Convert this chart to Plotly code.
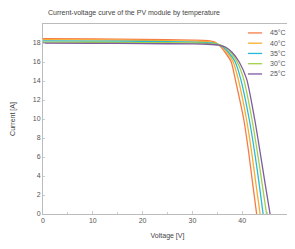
import plotly.graph_objects as go

title = "Current-voltage curve of the PV module by temperature"
labels = ["45°C", "40°C", "35°C", "30°C", "25°C"]
colors = ["#F47B47", "#F7AE2E", "#27BAD6", "#A2D04A", "#7E5A9E"]

v_45 = [0, 10, 20, 30, 33, 34.5, 35.5, 36.6, 37.8, 38.6, 40.3, 41.3, 42.1, 42.9]
i_45 = [18.45, 18.42, 18.38, 18.3, 18.25, 18.1, 17.7, 17.0, 16.0, 14.2, 10.0, 6.5, 3.2, 0]

v_40 = [0, 10, 20, 30, 33, 34.7, 35.8, 37.0, 38.2, 39.2, 40.85, 41.9, 42.75, 43.6]
i_40 = [18.35, 18.32, 18.28, 18.2, 18.15, 18.0, 17.65, 17.0, 16.0, 14.2, 10.0, 6.5, 3.2, 0]

v_35 = [0, 10, 20, 30, 33, 34.9, 36.1, 37.3, 38.6, 39.7, 41.4, 42.5, 43.4, 44.2]
i_35 = [18.22, 18.2, 18.17, 18.1, 18.05, 17.92, 17.62, 17.0, 16.0, 14.2, 10.0, 6.5, 3.2, 0]

v_30 = [0, 10, 20, 30, 33, 35.1, 36.4, 37.7, 39.0, 40.3, 41.95, 43.05, 44.0, 44.9]
i_30 = [18.1, 18.08, 18.05, 18.0, 17.96, 17.85, 17.6, 17.0, 16.0, 14.2, 10.0, 6.5, 3.2, 0]

v_25 = [0, 10, 20, 30, 33, 35.3, 36.7, 38.0, 39.4, 40.9, 42.5, 43.6, 44.6, 45.6]
i_25 = [17.98, 17.96, 17.94, 17.9, 17.87, 17.78, 17.55, 17.0, 16.0, 14.2, 10.0, 6.5, 3.2, 0]

series_v = [v_45, v_40, v_35, v_30, v_25]
series_i = [i_45, i_40, i_35, i_30, i_25]

x_ticks = [0, 10, 20, 30, 40, 50]
y_ticks = [0, 2, 4, 6, 8, 10, 12, 14, 16, 18]

fig = go.Figure()
for lab, col, vv, ii in zip(labels, colors, series_v, series_i):
    fig.add_trace(go.Scatter(x=vv, y=ii, mode="lines", name=lab, showlegend=False,
                             line=dict(color=col, width=1.3, shape="spline", smoothing=0.6)))

# compact legend (plotly's built-in legend rows are too tall for this size)
leg_top = 0.953
leg_step = 0.054
for k, (lab, col) in enumerate(zip(labels, colors)):
    yy = leg_top - k * leg_step
    fig.add_shape(type="line", xref="paper", yref="paper", x0=0.823, x1=0.88, y0=yy, y1=yy,
                  line=dict(color=col, width=1.3))
    fig.add_annotation(xref="paper", yref="paper", x=0.905, y=yy, text=lab, showarrow=False,
                       xanchor="left", yanchor="middle", font=dict(size=7, color="#555555"))

# the page body adds an 8px offset, so the figure is sized 8px smaller each way
W, H = 287, 241
font = dict(family="Liberation Sans, Arial, sans-serif", size=7, color="#555555")
fig.update_layout(
    width=W, height=H,
    margin=dict(l=35, r=3, t=16, b=35),
    paper_bgcolor="white", plot_bgcolor="white",
    font=font,
    title=dict(text=title, x=40 / W, xanchor="left", y=1 - 5 / H, yanchor="middle",
               font=dict(size=7, color="#444444")),
    showlegend=False,
    xaxis=dict(range=[0, 50], tickvals=x_ticks, showgrid=False, zeroline=False, automargin=False,
               showline=True, linecolor="#BBBBBB", linewidth=1, mirror=True,
               ticks="inside", ticklen=3, tickcolor="#CCCCCC",
               minor=dict(tickvals=[5, 15, 25, 35, 45], ticks="inside", ticklen=2, tickcolor="#CCCCCC"),
               title=dict(text="Voltage [V]", standoff=9, font=dict(size=7, color="#444444"))),
    yaxis=dict(range=[0, 20], tickvals=y_ticks, showgrid=False, zeroline=False, automargin=False,
               showline=True, linecolor="#BBBBBB", linewidth=1, mirror=True,
               ticks="inside", ticklen=2, tickcolor="#CCCCCC",
               title=dict(text="Current [A]", standoff=16, font=dict(size=7, color="#444444"))),
)

fig.write_html("out.html")
